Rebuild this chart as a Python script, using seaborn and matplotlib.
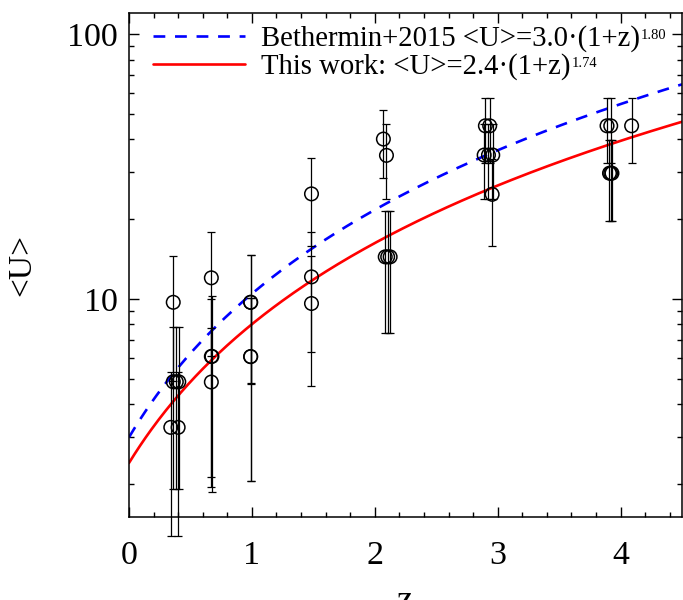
import numpy as np
import pandas as pd
import matplotlib
matplotlib.use("Agg")
import matplotlib.pyplot as plt
import seaborn as sns
from matplotlib.ticker import FixedLocator, NullFormatter, MultipleLocator

# ---- data ----
z_pts = [0.36, 0.36, 0.385, 0.405, 0.34, 0.40,
         0.67, 0.67, 0.675, 0.67,
         0.99, 0.99, 0.99, 0.99,
         1.485, 1.485, 1.485,
         2.07, 2.095, 2.085, 2.105, 2.125,
         2.90, 2.935, 2.89, 2.925, 2.96, 2.955,
         3.89, 3.92, 3.91, 3.92, 3.93, 4.09]
u_pts = [9.7, 4.86, 4.86, 4.86, 3.27, 3.27,
         12.0, 6.06, 6.06, 4.85,
         9.7, 9.7, 6.05, 6.05,
         24.9, 12.1, 9.6,
         40.1, 34.8, 14.4, 14.4, 14.4,
         45.0, 45.0, 34.9, 34.9, 34.9, 24.8,
         45.0, 45.0, 29.8, 29.8, 29.8, 45.0]
u_err = [4.8, 2.95, 2.95, 2.95, 2.0, 2.0,
         5.9, 3.94, 4.2, 2.9,
         4.95, 4.9, 4.0, 4.0,
         9.1, 5.8, 4.9,
         11.5, 10.9, 7.0, 7.0, 7.0,
         12.5, 12.5, 11.0, 11.0, 11.0, 9.0,
         12.5, 12.5, 10.1, 10.1, 10.1, 12.5]

# model relations quoted in the legend: <U> = A * (1+z)^B
bethermin_A, bethermin_B = 3.0, 1.80
thiswork_A, thiswork_B = 2.4, 1.74
label_bethermin = "Bethermin+2015 <U>=3.0·(1+z)"
label_thiswork = "This work: <U>=2.4·(1+z)"
sup_labels = ["1.80", "1.74"]

x_ticks = [0, 1, 2, 3, 4]
y_ticks = [10, 100]

# ---- style ----
sns.set_theme(style="ticks")
plt.rcParams["font.family"] = ["Liberation Serif", "DejaVu Serif"]
plt.rcParams["lines.scale_dashes"] = False
plt.rcParams["text.color"] = "black"
plt.rcParams["axes.labelcolor"] = "black"
plt.rcParams["xtick.color"] = "black"
plt.rcParams["ytick.color"] = "black"

fig = plt.figure(figsize=(6.83, 6.0), dpi=100)
ax = fig.add_axes([129 / 683, (600 - 517) / 600, 553 / 683, (517 - 13) / 600])

zgrid = np.linspace(0, 4.5, 300)
df_b = pd.DataFrame({"z": zgrid, "U": bethermin_A * (1 + zgrid) ** bethermin_B})
df_t = pd.DataFrame({"z": zgrid, "U": thiswork_A * (1 + zgrid) ** thiswork_B})

sns.lineplot(data=df_b, x="z", y="U", ax=ax, color="#0000ff", lw=1.9,
             label=label_bethermin)
ax.lines[-1].set_dashes((8.5, 7))
sns.lineplot(data=df_t, x="z", y="U", ax=ax, color="#ff0000", lw=1.9,
             label=label_thiswork)

eb = ax.errorbar(z_pts, u_pts, yerr=u_err, fmt="none", ecolor="black",
                 elinewidth=0.9, capsize=3, capthick=0.9, zorder=3)
for art in list(eb.lines[1]) + list(eb.lines[2]):
    art.set_clip_on(False)

pts = pd.DataFrame({"z": z_pts, "U": u_pts})
sns.scatterplot(data=pts, x="z", y="U", ax=ax, marker="o", s=95,
                facecolors="none", edgecolor="black", linewidth=1.1,
                zorder=4, legend=False)

ax.set_yscale("log")
ax.set_xlim(0, 4.5)
ax.set_ylim(1.5, 120)

ax.xaxis.set_major_locator(FixedLocator(x_ticks))
ax.xaxis.set_minor_locator(MultipleLocator(0.2))
ax.set_xticklabels([str(t) for t in x_ticks])
ax.yaxis.set_major_locator(FixedLocator(y_ticks))
minor_y = [v * d for d in (1, 10) for v in range(2, 10)]
ax.yaxis.set_minor_locator(FixedLocator(minor_y))
ax.yaxis.set_minor_formatter(NullFormatter())
ax.set_yticklabels([str(t) for t in y_ticks])

ax.tick_params(which="both", direction="in", top=True, right=True,
               color="black", labelcolor="black", width=1.0)
ax.tick_params(which="major", length=7.5)
ax.tick_params(which="minor", length=3.8)
ax.tick_params(axis="x", which="major", labelsize=24.5, pad=17)
ax.tick_params(axis="y", which="major", labelsize=24.5, pad=8)
for sp in ax.spines.values():
    sp.set_linewidth(1.1)
    sp.set_color("black")

ax.set_xlabel("z", fontsize=26)
ax.xaxis.set_label_coords(0.5, -0.135)
ax.set_ylabel("<U>", fontsize=24)
ax.yaxis.set_label_coords(-0.165, 0.5)

leg = ax.legend(loc="upper left", bbox_to_anchor=(0.044, 0.976), frameon=False,
                fontsize=20.7, handlelength=3.2, handletextpad=0.55,
                borderaxespad=0, borderpad=0, labelspacing=0.05)

# small superscript exponents after each legend label
fig.canvas.draw()
renderer = fig.canvas.get_renderer()
for txt, sup in zip(leg.get_texts(), sup_labels):
    bb = txt.get_window_extent(renderer)
    fx = (bb.x1 + 1) / fig.bbox.width
    fy = (bb.y1 - 4) / fig.bbox.height
    fig.text(fx, fy, sup, fontsize=10.5, ha="left", va="top", color="black")

fig.savefig("out.png", dpi=100)
